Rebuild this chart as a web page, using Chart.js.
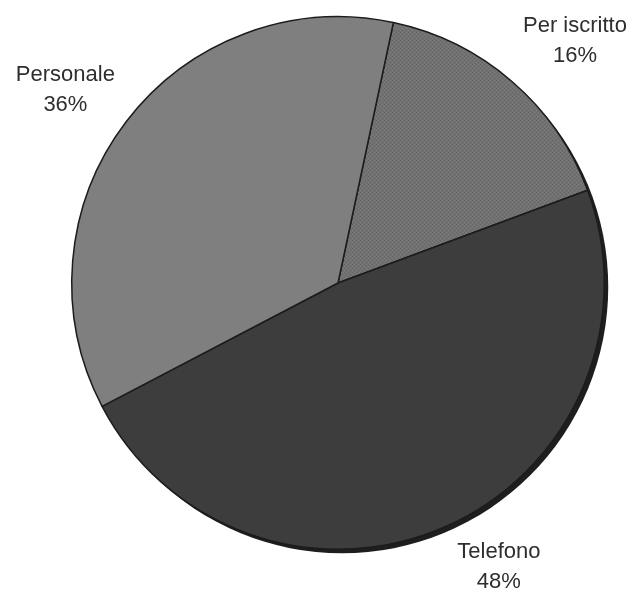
<!DOCTYPE html>
<html>
<head>
<meta charset="utf-8">
<script src="https://cdn.jsdelivr.net/npm/chart.js@4"></script>
<style>
html,body{margin:0;padding:0;background:#fff;}
#wrap{width:633px;height:594px;position:relative;}
</style>
</head>
<body>
<div id="wrap"><canvas id="c" width="633" height="594"></canvas></div>
<script>
const categories = ["Per iscritto", "Telefono", "Personale"];
const values = [16, 48, 36];
const percentLabels = ["16%", "48%", "36%"];
const sliceColors = ["#717171", "#3d3d3d", "#7f7f7f"];

// subtle stipple pattern for "Per iscritto"
function stipple(base) {
  const p = document.createElement('canvas');
  p.width = 4; p.height = 4;
  const g = p.getContext('2d');
  g.fillStyle = base; g.fillRect(0, 0, 4, 4);
  g.fillStyle = 'rgba(0,0,0,0.10)';
  g.fillRect(0, 0, 1, 1); g.fillRect(2, 2, 1, 1);
  g.fillStyle = 'rgba(255,255,255,0.08)';
  g.fillRect(2, 0, 1, 1); g.fillRect(0, 2, 1, 1);
  return g.createPattern(p, 'repeat');
}

const shadowPlugin = {
  id: 'shadow',
  beforeDatasetsDraw(chart) {
    const arc = chart.getDatasetMeta(0).data[0];
    if (!arc) return;
    const ctx = chart.ctx;
    ctx.save();
    ctx.fillStyle = '#1e1e1e';
    ctx.beginPath();
    ctx.arc(arc.x + 4, arc.y + 4, arc.outerRadius, 0, Math.PI * 2);
    ctx.fill();
    ctx.restore();
  }
};

const labelPlugin = {
  id: 'outLabels',
  afterDatasetsDraw(chart) {
    const ctx = chart.ctx;
    const meta = chart.getDatasetMeta(0);
    ctx.save();
    ctx.font = '22px "Liberation Sans", Arial, sans-serif';
    ctx.fillStyle = '#2e2e2e';
    ctx.textAlign = 'center';
    ctx.textBaseline = 'middle';
    const lh = 30, off = 11;
    meta.data.forEach((a, i) => {
      const mid = (a.startAngle + a.endAngle) / 2;
      const px = a.x + Math.cos(mid) * a.outerRadius;
      const py = a.y + Math.sin(mid) * a.outerRadius;
      const lines = [categories[i], percentLabels[i]];
      const w = Math.max(...lines.map(t => ctx.measureText(t).width));
      const h = lh * lines.length;
      const sx = Math.cos(mid) >= 0 ? 1 : -1;
      const sy = Math.sin(mid) >= 0 ? 1 : -1;
      const left = sx > 0 ? px + off : px - off - w;
      const top = sy > 0 ? py + off : py - (sx > 0 ? off : 2) - h;
      lines.forEach((t, j) => {
        ctx.fillText(t, left + w / 2, top + lh / 2 + j * lh);
      });
    });
    ctx.restore();
  }
};

const ctx = document.getElementById('c').getContext('2d');
const bg = sliceColors.slice();
bg[0] = stipple(sliceColors[0]);

new Chart(ctx, {
  type: 'pie',
  data: {
    labels: categories,
    datasets: [{
      data: values,
      backgroundColor: bg,
      borderColor: '#1c1c1c',
      borderWidth: 1.5,
      hoverOffset: 0
    }]
  },
  options: {
    responsive: false,
    animation: false,
    rotation: 12,
    layout: { padding: { left: 71, right: 28, top: 16, bottom: 44 } },
    plugins: {
      legend: { display: false },
      tooltip: { enabled: false }
    }
  },
  plugins: [shadowPlugin, labelPlugin]
});
</script>
</body>
</html>
